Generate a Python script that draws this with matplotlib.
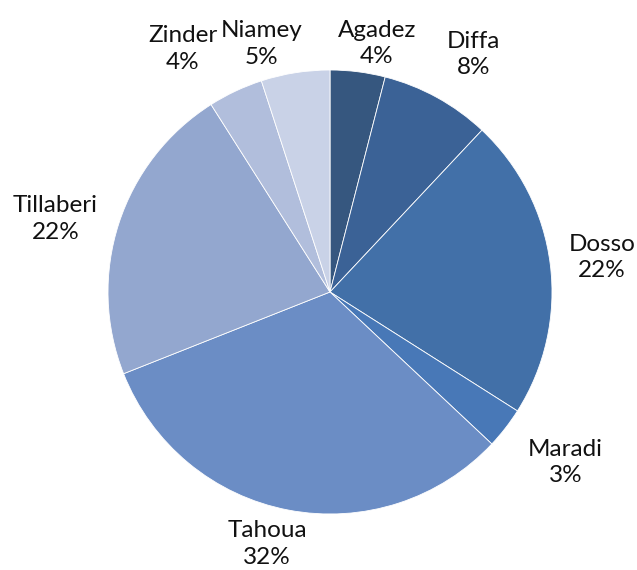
import matplotlib.pyplot as plt
import numpy as np

regions = ["Agadez", "Diffa", "Dosso", "Maradi", "Tahoua", "Tillaberi", "Zinder", "Niamey"]
shares = [4, 8, 22, 3, 32, 22, 4, 5]
colors = ["#36577f", "#3b6296", "#4270a8", "#4878b7", "#6b8dc5", "#93a7cf", "#b1bedc", "#c9d2e7"]

# how far out each label sits (in pie radii), placed like Excel's best fit
label_r = [1.14, 1.25, 1.235, 1.31, 1.17, 1.28, 1.28, 1.16]
label_nudge = [-3.5, -2.3, 0, 1.9, -3.2, 3.1, 6, 6.5]  # degrees

plt.rcParams['font.family'] = ['Lato', 'DejaVu Sans']

fig = plt.figure(figsize=(6.37, 5.7), dpi=100)
ax = fig.add_axes([0, 0, 1, 1])

wedges, _ = ax.pie(shares, colors=colors, startangle=90, counterclock=False,
                   radius=1, wedgeprops=dict(edgecolor="white", linewidth=0.6))

for w, name, val, r, dn in zip(wedges, regions, shares, label_r, label_nudge):
    ang = np.deg2rad((w.theta1 + w.theta2) / 2 + dn)
    ax.text(r * np.cos(ang), r * np.sin(ang), f"{name}\n{val}%",
            ha="center", va="center", fontsize=17.5, linespacing=1.32, color="#111111")

# scale: pie radius = 222 px, centre at (330, 292) from top-left
R = 222.0
ax.set_xlim(-330 / R, (637 - 330) / R)
ax.set_ylim(-(570 - 292) / R, 292 / R)
ax.set_aspect("equal")
ax.axis("off")

fig.savefig("out.png", dpi=100)
